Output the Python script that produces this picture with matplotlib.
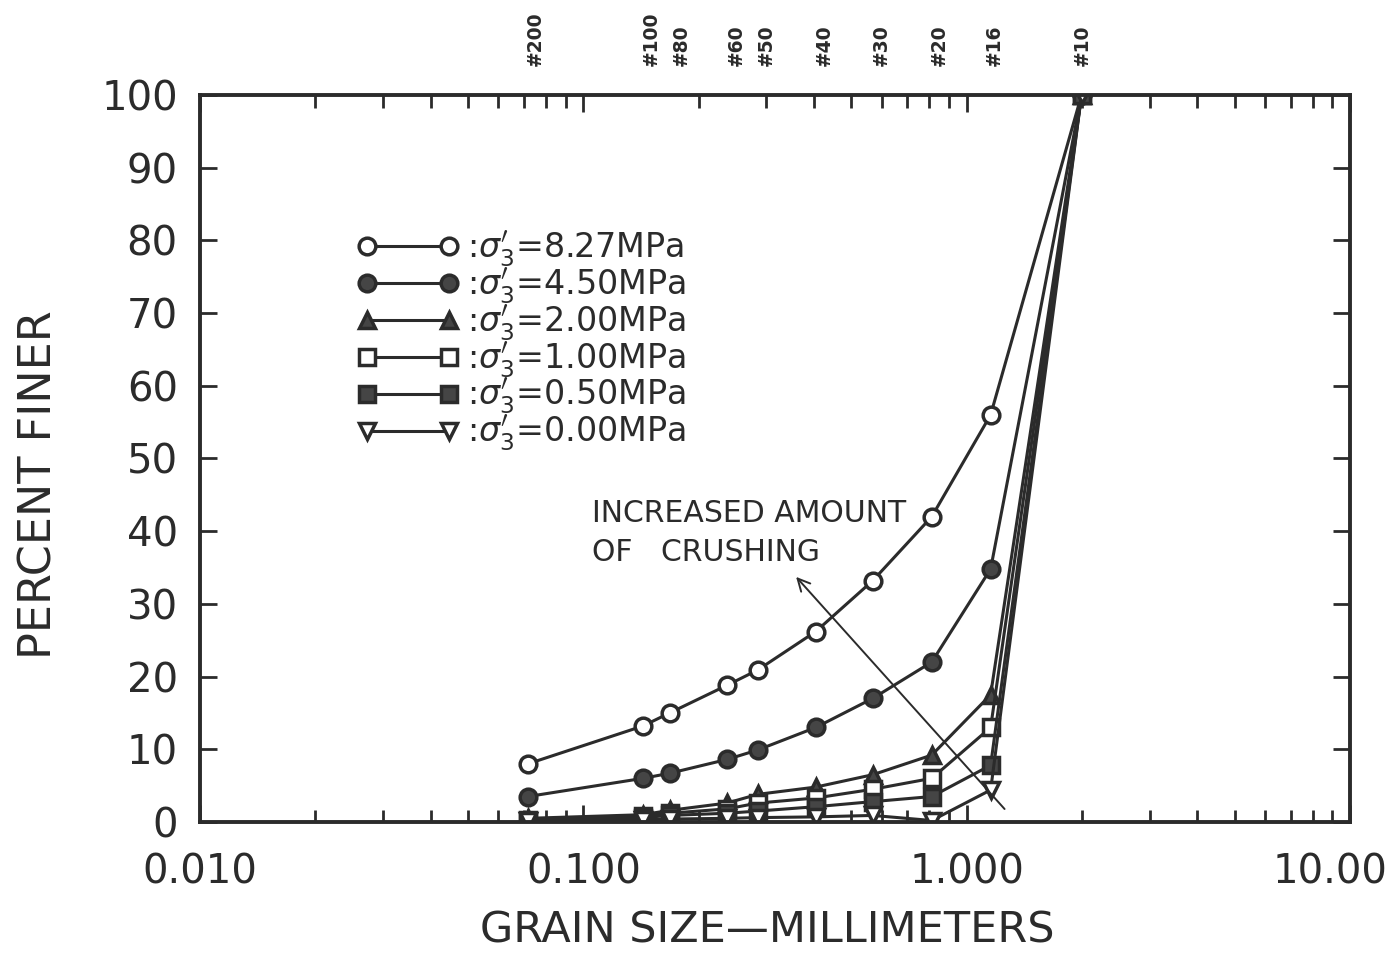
import matplotlib
matplotlib.use("Agg")
import matplotlib.pyplot as plt
import matplotlib.transforms as mtransforms

# sieve openings (mm) and sieve numbers for the top scale
sieve_mm = [0.075, 0.15, 0.18, 0.25, 0.30, 0.425, 0.60, 0.85, 1.18, 2.0]
sieve_no = ["#200", "#100", "#80", "#60", "#50", "#40", "#30", "#20", "#16", "#10"]

# grain sizes where the points sit in the figure (mm)
grain_mm = [0.0717, 0.143, 0.168, 0.237, 0.285, 0.404, 0.569, 0.811, 1.155, 1.994]

# percent finer for each confining pressure
p827 = [8.0, 13.2, 15.0, 18.8, 20.9, 26.2, 33.2, 42.0, 56.0, 100]
p450 = [3.5, 6.0, 6.7, 8.6, 9.9, 13.0, 17.0, 22.0, 34.8, 100]
p200 = [0.5, 1.0, 1.6, 2.6, 3.8, 4.8, 6.5, 9.2, 17.5, 100]
p100 = [0.3, 0.8, 1.2, 1.8, 2.6, 3.3, 4.5, 6.0, 13.0, 100]
p050 = [0.2, 0.6, 0.9, 1.2, 1.5, 2.1, 2.8, 3.5, 7.8, 100]
p000 = [0.1, 0.3, 0.4, 0.5, 0.6, 0.7, 0.9, 0.2, 4.4, 100]

labels = [r":$\sigma_3^{\prime}$=8.27MPa", r":$\sigma_3^{\prime}$=4.50MPa",
          r":$\sigma_3^{\prime}$=2.00MPa", r":$\sigma_3^{\prime}$=1.00MPa",
          r":$\sigma_3^{\prime}$=0.50MPa", r":$\sigma_3^{\prime}$=0.00MPa"]

ink = "#2b2b2b"
fill = "#454545"
plt.rcParams["font.family"] = ["DejaVu Sans"]
plt.rcParams["mathtext.fontset"] = "dejavusans"

fig = plt.figure(figsize=(13.95, 9.55), dpi=100)
ax = fig.add_axes([0.1434, 0.1393, 0.8243, 0.7612])

styles = [("o", "white"), ("o", fill), ("^", fill), ("s", "white"), ("s", fill), ("v", "white")]
series = [p827, p450, p200, p100, p050, p000]
for ys, (m, fc), lab in zip(series, styles, labels):
    ax.plot(grain_mm, ys, color=ink, lw=2.2, marker=m, markersize=12,
            markerfacecolor=fc, markeredgecolor=ink, markeredgewidth=2.5, label=lab)

ax.set_xscale("log")
ax.set_xlim(0.01, 10)
ax.set_ylim(0, 100)
ax.set_xticks([0.01, 0.1, 1, 10])
ax.set_xticklabels(["0.010", "0.100", "1.000", "10.00"])
ax.set_yticks(range(0, 101, 10))
ax.tick_params(which="both", direction="in", top=True, right=True, color=ink,
               labelsize=29, labelcolor=ink, width=2)
ax.tick_params(which="major", length=12)
ax.tick_params(which="minor", length=9)
ax.tick_params(axis="x", which="major", pad=22)
ax.tick_params(axis="y", which="major", pad=16)
for s in ax.spines.values():
    s.set_linewidth(2.8)
    s.set_color(ink)

# last x label sits a bit to the left so it stays on the page
last = ax.get_xticklabels()[-1]
last.set_transform(last.get_transform() + mtransforms.ScaledTranslation(-0.2, 0, fig.dpi_scale_trans))

ax.set_xlabel("GRAIN SIZE\u2014MILLIMETERS", fontsize=31, color=ink,
              family=["Liberation Sans Narrow", "DejaVu Sans"])
ax.set_ylabel("PERCENT FINER", fontsize=32, color=ink,
              family=["Liberation Sans Narrow", "DejaVu Sans"])
ax.xaxis.set_label_coords(0.493, -0.149)
ax.yaxis.set_label_coords(-0.140, 0.4636)
ax.xaxis.label.set_va("center")
ax.yaxis.label.set_va("center")

# sieve numbers along the top
trans = mtransforms.blended_transform_factory(ax.transData, ax.transAxes)
for xs, name in zip(sieve_mm, sieve_no):
    ax.text(xs, 1.04, name, transform=trans, rotation=90, ha="center", va="bottom",
            fontsize=13.5, fontweight="bold", color=ink)

leg = ax.legend(loc="upper left", bbox_to_anchor=(0.125, 0.833), numpoints=2,
                handlelength=3.05, handletextpad=0.25, labelspacing=-0.1,
                frameon=False, fontsize=24, borderaxespad=0)
for t in leg.get_texts():
    t.set_color(ink)

ax.text(0.1056, 42.5, "INCREASED AMOUNT", fontsize=21.5, color=ink, va="center")
ax.text(0.1056, 37.0, "OF   CRUSHING", fontsize=21.5, color=ink, va="center")
ax.annotate("", xy=(0.355, 34), xytext=(1.27, 1.5),
            arrowprops=dict(arrowstyle="->", lw=1.4, color=ink, mutation_scale=22))

fig.savefig("out.png", dpi=100)
